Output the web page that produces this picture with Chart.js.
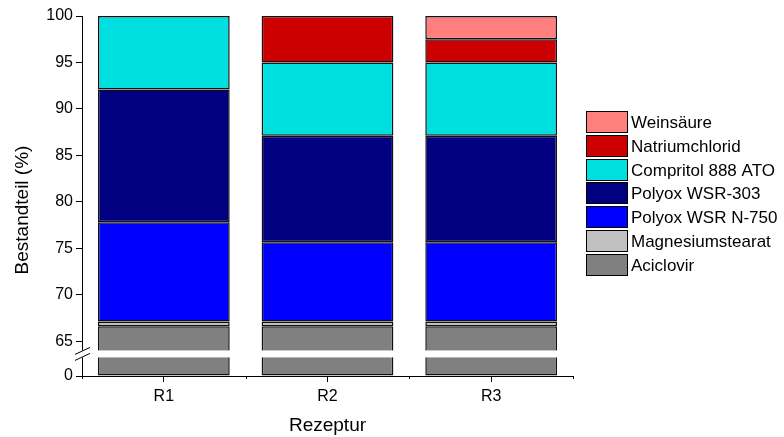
<!DOCTYPE html>
<html>
<head>
<meta charset="utf-8">
<script src="https://cdn.jsdelivr.net/npm/chart.js@4/dist/chart.umd.min.js"></script>
<style>
  html, body { margin: 0; padding: 0; background: #fff; }
  #wrap { width: 784px; height: 437px; }
</style>
</head>
<body>
<div id="wrap"><canvas id="recipeChart"></canvas></div>
<script>
// Stacked composition chart with broken y axis

const categories = ['R1', 'R2', 'R3'];
const aciclovir = [66.6, 66.6, 66.6];
const magnesiumstearat = [0.5, 0.5, 0.5];
const polyoxN750 = [10.7, 8.55, 8.55];
const polyox303 = [14.3, 11.45, 11.45];
const compritol = [7.9, 7.9, 7.9];
const natriumchlorid = [null, 5, 2.5];
const weinsaeure = [null, null, 2.5];
const yTicks = [0, 65, 70, 75, 80, 85, 90, 95, 100];

const FONT = "'Liberation Sans', Arial, sans-serif";

// linear scale with a gap between 2 and 64
class BrokenScale extends Chart.LinearScale {
    unitPx() {
        const b = this.options.brk;
        const units = (this.max - b.to) + (b.from - this.min);
        return (this.bottom - this.top - b.gap) / units;
    }
    getPixelForValue(value) {
        const b = this.options.brk;
        const u = this.unitPx();
        if (value <= b.from) return this.bottom - (value - this.min) * u;
        if (value >= b.to) return this.top + (this.max - value) * u;
        const lowTop = this.bottom - (b.from - this.min) * u;
        return lowTop - b.gap * (value - b.from) / (b.to - b.from);
    }
    getValueForPixel(pixel) {
        const b = this.options.brk;
        const u = this.unitPx();
        const lowTop = this.bottom - (b.from - this.min) * u;
        if (pixel >= lowTop) return this.min + (this.bottom - pixel) / u;
        if (pixel <= lowTop - b.gap) return this.max - (pixel - this.top) / u;
        return b.from + (lowTop - pixel) / b.gap * (b.to - b.from);
    }
}
BrokenScale.id = 'broken';
BrokenScale.defaults = Chart.LinearScale.defaults;
Chart.register(BrokenScale);

const extras = {
    id: 'extras',
    afterDatasetsDraw(chart) {
        const ctx = chart.ctx;
        const y = chart.scales.y;
        const x = chart.scales.x;
        const area = chart.chartArea;
        const b = y.options.brk;
        const gTop = y.getPixelForValue(b.to);
        const gBot = y.getPixelForValue(b.from);

        ctx.save();
        // break gap
        ctx.fillStyle = '#fff';
        ctx.fillRect(area.left - 4, gTop, area.right - area.left + 6, gBot - gTop);
        ctx.strokeStyle = '#000';
        ctx.lineWidth = 1;
        ctx.beginPath();
        ctx.moveTo(area.left - 7, gTop + 4); ctx.lineTo(area.left + 8, gTop - 3);
        ctx.moveTo(area.left - 7, gBot + 3); ctx.lineTo(area.left + 8, gBot - 4);
        ctx.stroke();

        // minor ticks between categories
        const step = x.getPixelForTick(1) - x.getPixelForTick(0);
        ctx.beginPath();
        for (let i = 0; i <= categories.length; i++) {
            const px = Math.round(x.getPixelForTick(0) - step / 2 + i * step) + 0.5;
            ctx.moveTo(px, area.bottom);
            ctx.lineTo(px, area.bottom + 3);
        }
        ctx.stroke();

        // y axis title
        ctx.fillStyle = '#000';
        ctx.font = '19px ' + FONT;
        ctx.textAlign = 'center';
        ctx.textBaseline = 'middle';
        ctx.translate(23, 210);
        ctx.rotate(-Math.PI / 2);
        ctx.fillText('Bestandteil (%)', 0, 0);
        ctx.restore();

        // legend, top entry first
        ctx.save();
        ctx.font = '17px ' + FONT;
        ctx.textBaseline = 'middle';
        ctx.lineWidth = 1;
        const sets = chart.data.datasets.slice().reverse();
        sets.forEach((ds, i) => {
            const top = Math.round(111 + i * 23.8);
            ctx.fillStyle = ds.backgroundColor;
            ctx.fillRect(586, top, 42, 22);
            ctx.strokeStyle = '#000';
            ctx.strokeRect(586.5, top + 0.5, 41, 21);
            ctx.fillStyle = '#000';
            ctx.fillText(ds.label, 631, top + 12);
        });
        ctx.restore();
    }
};

function bar(label, data, color) {
    return {
        label: label,
        data: data,
        backgroundColor: color,
        borderColor: '#111',
        borderWidth: 1.5,
        borderSkipped: false,
        categoryPercentage: 1,
        barPercentage: 0.805
    };
}

new Chart(document.getElementById('recipeChart'), {
    type: 'bar',
    data: {
        labels: categories,
        datasets: [
            bar('Aciclovir', aciclovir, '#808080'),
            bar('Magnesiumstearat', magnesiumstearat, '#c0c0c0'),
            bar('Polyox WSR N-750', polyoxN750, '#0000ff'),
            bar('Polyox WSR-303', polyox303, '#000080'),
            bar('Compritol 888 ATO', compritol, '#00dfdf'),
            bar('Natriumchlorid', natriumchlorid, '#cc0000'),
            bar('Weinsäure', weinsaeure, '#ff7f7f')
        ]
    },
    plugins: [extras],
    options: {
        responsive: true,
        maintainAspectRatio: false,
        animation: false,
        layout: { padding: { top: 16, right: 211, left: 0, bottom: 0 } },
        plugins: {
            legend: { display: false },
            tooltip: { enabled: false }
        },
        scales: {
            x: {
                stacked: true,
                offset: true,
                grid: { display: true, offset: false, drawOnChartArea: false, tickLength: 6, color: '#000' },
                border: { color: '#000', width: 1 },
                ticks: { color: '#000', padding: 5, font: { size: 16, family: FONT } },
                title: { display: true, text: 'Rezeptur', color: '#000', padding: 0, font: { size: 19, family: FONT } },
                afterFit: function (scale) { scale.height = 61; }
            },
            y: {
                type: 'broken',
                stacked: true,
                min: 0,
                max: 100,
                brk: { from: 2, to: 64, gap: 7 },
                grid: { drawOnChartArea: false, tickLength: 6, color: '#000' },
                border: { color: '#000', width: 1 },
                ticks: { color: '#000', padding: 3, font: { size: 16, family: FONT } },
                afterBuildTicks: function (scale) {
                    scale.ticks = yTicks.map(v => ({ value: v }));
                },
                afterFit: function (scale) { scale.width = 82; }
            }
        }
    }
});
</script>
</body>
</html>
